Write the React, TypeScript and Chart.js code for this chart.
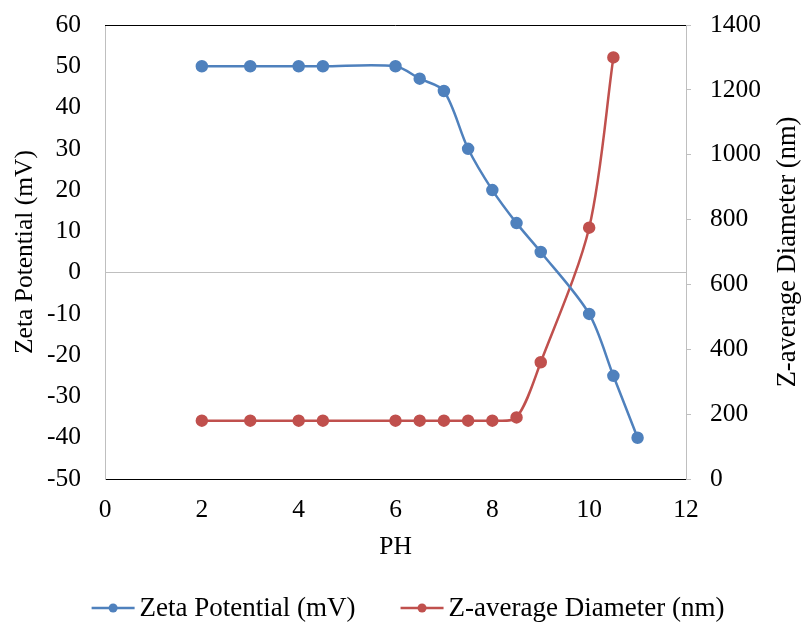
import React, { useEffect, useRef } from "react";
import { Chart, registerables } from "chart.js";

Chart.register(...registerables);

const phZeta = [2, 3, 4, 4.5, 6, 6.5, 7, 7.5, 8, 8.5, 9, 10, 10.5, 11];
const zetaPotential = [50, 50, 50, 50, 50, 47, 44, 30, 20, 12, 5, -10, -25, -40];
const phDiameter = [2, 3, 4, 4.5, 6, 6.5, 7, 7.5, 8, 8.5, 9, 10, 10.5];
const zAverageDiameter = [180, 180, 180, 180, 180, 180, 180, 180, 180, 190, 360, 775, 1300];

const seriesNames = ["Zeta Potential (mV)", "Z-average Diameter (nm)"];
const xTitle = "PH";
const leftTitle = "Zeta Potential (mV)";
const rightTitle = "Z-average Diameter (nm)";

const BLUE = "#4F81BD";
const RED = "#C0504D";
const GRAY = "#BFBFBF";
const FONT = "'Liberation Serif', 'Times New Roman', serif";
const FS = 25.5;
const LEGEND_FS = 27;
const RIGHT_TITLE_FS = 26.5;

const extrasPlugin = {
  id: "extras",
  afterDraw(chart: any) {
    const { ctx, chartArea } = chart;
    ctx.save();
    // top border
    ctx.strokeStyle = "#000";
    ctx.lineWidth = 1;
    ctx.beginPath();
    ctx.moveTo(chartArea.left, Math.round(chartArea.top) + 0.5);
    ctx.lineTo(chartArea.right, Math.round(chartArea.top) + 0.5);
    ctx.stroke();

    // right title (reads bottom to top)
    ctx.font = `${RIGHT_TITLE_FS}px ${FONT}`;
    ctx.fillStyle = "#000";
    ctx.textAlign = "center";
    ctx.textBaseline = "middle";
    ctx.translate(788, (chartArea.top + chartArea.bottom) / 2);
    ctx.rotate(-Math.PI / 2);
    ctx.fillText(rightTitle, 0, 0);
    ctx.restore();

    // legend
    ctx.save();
    ctx.font = `${LEGEND_FS}px ${FONT}`;
    ctx.textBaseline = "middle";
    ctx.textAlign = "left";
    const lineW = 43;
    const gap = 5;
    const itemGap = 45;
    const colors = [BLUE, RED];
    const widths = seriesNames.map((n) => ctx.measureText(n).width);
    const total = widths.reduce((a, w) => a + lineW + gap + w, 0) + itemGap;
    let x = 408 - total / 2;
    const y = 608;
    seriesNames.forEach((n, i) => {
      ctx.strokeStyle = colors[i];
      ctx.lineWidth = 2.5;
      ctx.beginPath();
      ctx.moveTo(x, y);
      ctx.lineTo(x + lineW, y);
      ctx.stroke();
      ctx.fillStyle = colors[i];
      ctx.beginPath();
      ctx.arc(x + lineW / 2, y, 4.5, 0, Math.PI * 2);
      ctx.fill();
      ctx.fillStyle = "#000";
      ctx.fillText(n, x + lineW + gap, y + 1);
      x += lineW + gap + widths[i] + itemGap;
    });
    ctx.restore();
  },
};

export default function App() {
  const ref = useRef<HTMLCanvasElement | null>(null);

  useEffect(() => {
    if (!ref.current) return;
    Chart.defaults.font.family = FONT;
    Chart.defaults.font.size = FS;
    Chart.defaults.color = "#000";
    const chart = new Chart(ref.current, {
      type: "line",
      data: {
        datasets: [
          {
            label: seriesNames[0],
            data: phZeta.map((x, i) => ({ x, y: zetaPotential[i] })),
            borderColor: BLUE,
            backgroundColor: BLUE,
            borderWidth: 2.5,
            pointRadius: 5,
            pointHoverRadius: 5,
            tension: 0.3,
            yAxisID: "y",
          },
          {
            label: seriesNames[1],
            data: phDiameter.map((x, i) => ({ x, y: zAverageDiameter[i] })),
            borderColor: RED,
            backgroundColor: RED,
            borderWidth: 2.5,
            pointRadius: 5,
            pointHoverRadius: 5,
            tension: 0.3,
            yAxisID: "y1",
          },
        ],
      },
      options: {
        animation: false,
        responsive: false,
        devicePixelRatio: 1,
        layout: { padding: { top: 25, left: 0, right: 0, bottom: 0 } },
        plugins: { legend: { display: false }, tooltip: { enabled: false } },
        scales: {
          x: {
            type: "linear",
            min: 0,
            max: 12,
            ticks: { stepSize: 2, padding: 16, font: { size: FS }, callback: (v: any) => String(v) },
            grid: { display: true, drawOnChartArea: false, drawTicks: false },
            border: { color: "#000", width: 1 },
            title: { display: true, text: xTitle, font: { size: FS }, padding: { top: 0, bottom: 59 } },
            afterFit: (s: any) => {
              s.height = 143;
              s.paddingLeft = 0;
              s.paddingRight = 0;
            },
          },
          y: {
            type: "linear",
            position: "left",
            min: -50,
            max: 60,
            ticks: { stepSize: 10, padding: 24, font: { size: FS }, callback: (v: any) => String(v) },
            grid: {
              drawTicks: false,
              color: (c: any) => (c.tick && c.tick.value === 0 ? GRAY : "rgba(0,0,0,0)"),
              lineWidth: 1,
            },
            border: { color: GRAY, width: 1 },
            title: { display: true, text: leftTitle, font: { size: FS }, padding: { top: 10, bottom: 0 } },
            afterFit: (s: any) => {
              s.width = 105;
              s.paddingTop = 0;
              s.paddingBottom = 0;
            },
          },
          y1: {
            type: "linear",
            position: "right",
            min: 0,
            max: 1400,
            ticks: { stepSize: 200, padding: 19, font: { size: FS }, callback: (v: any) => String(v) },
            grid: { drawOnChartArea: false, drawTicks: true, tickLength: 5, color: GRAY },
            border: { color: GRAY, width: 1 },
            afterFit: (s: any) => {
              s.width = 115;
              s.paddingTop = 0;
              s.paddingBottom = 0;
            },
          },
        },
      },
      plugins: [extrasPlugin],
    });
    return () => chart.destroy();
  }, []);

  return (
    <div style={{ position: "fixed", left: 0, top: 0, width: 801, height: 622, background: "#fff" }}>
      <canvas ref={ref} width={801} height={622} style={{ display: "block" }} />
    </div>
  );
}
